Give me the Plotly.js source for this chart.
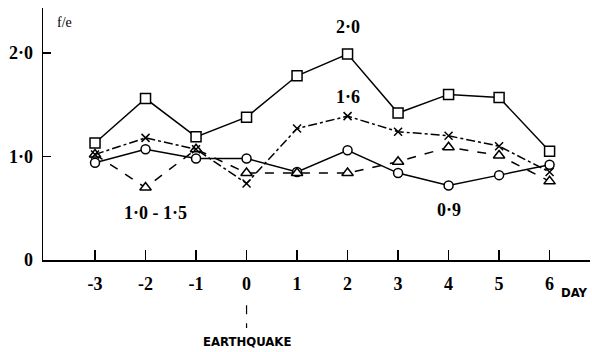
<!DOCTYPE html>
<html><head><meta charset="utf-8">
<script src="https://cdn.plot.ly/plotly-3.0.1.min.js"></script>
<style>html,body{margin:0;padding:0;background:#fff}#c{width:592px;height:352px}</style>
</head><body><div id="c"></div>
<script>
const days = [-3, -2, -1, 0, 1, 2, 3, 4, 5, 6];
const squareSeries = [1.13, 1.56, 1.19, 1.38, 1.78, 1.99, 1.42, 1.60, 1.57, 1.05];
const crossSeries = [1.02, 1.18, 1.07, 0.74, 1.27, 1.39, 1.24, 1.20, 1.10, 0.85];
const triangleSeries = [1.02, 0.70, 1.07, 0.84, 0.84, 0.84, 0.95, 1.09, 1.01, 0.76];
const circleSeries = [0.94, 1.07, 0.98, 0.98, 0.85, 1.06, 0.84, 0.72, 0.82, 0.92];
const xTickVals = [-3, -2, -1, 0, 1, 2, 3, 4, 5, 6];
const xTickText = ['-3', '-2', '-1', '0', '1', '2', '3', '4', '5', '6'];
const yTickVals = [0, 1, 2];
const yTickText = ['0', '1·0', '2·0'];

const serif = "'Liberation Serif', 'DejaVu Serif', serif";
const cond = "'DejaVu Sans Condensed', 'DejaVu Sans', sans-serif";
function tr(y, sym, dash, size) {
  return {x: days, y: y, type: 'scatter', mode: 'lines+markers',
    line: {color: '#000', width: 1.5, dash: dash},
    marker: {symbol: sym, size: size, color: '#fff', line: {color: '#000', width: 1.5}},
    hoverinfo: 'skip', showlegend: false, cliponaxis: false};
}
const data = [
  tr(circleSeries, 'circle', 'solid', 9),
  tr(triangleSeries, 'triangle-up', 'dash', 10),
  tr(crossSeries, 'x-thin-open', 'dashdot', 8),
  tr(squareSeries, 'square', 'solid', 10)
];
data[2].marker = {symbol: 'x-thin-open', size: 8, color: '#000', line: {color: '#000', width: 1.5}};

function ann(text, xref, x, yp, font, extra) {
  return Object.assign({text: text, xref: xref, yref: 'paper', x: x, y: yp, showarrow: false,
    xanchor: 'center', yanchor: 'middle', font: font}, extra || {});
}
const bigFont = {family: serif, size: 18, color: '#000', weight: 'bold'};
const layout = {
  width: 592, height: 352,
  margin: {l: 43, r: 2, t: 8, b: 92},
  paper_bgcolor: '#fff', plot_bgcolor: '#fff',
  font: {family: serif, color: '#000'},
  xaxis: {range: [-4.03, 6.80], showgrid: false, zeroline: false,
    showline: true, linecolor: '#000', linewidth: 1.5,
    tickmode: 'array', tickvals: xTickVals, ticktext: xTickText,
    ticks: 'inside', ticklen: 10, tickwidth: 1.2, tickcolor: '#000',
    ticklabelstandoff: 7,
    tickfont: bigFont},
  yaxis: {range: [0, 2.435], showgrid: false, zeroline: false,
    showline: true, linecolor: '#000', linewidth: 1.5,
    tickmode: 'array', tickvals: yTickVals, ticktext: yTickText,
    ticks: 'inside', ticklen: 8, tickwidth: 1.2, tickcolor: '#000',
    ticklabelstandoff: 5,
    tickfont: bigFont},
  shapes: [{type: 'line', xref: 'x', yref: 'paper', x0: 0, x1: 0, y0: -0.18, y1: -0.27,
    line: {color: '#000', width: 1.2, dash: 'dash'}}],
  annotations: [
    ann('f/e', 'paper', 0.04, 0.944, {family: serif, size: 14, color: '#000'}),
    ann('2·0', 'x', 2, 0.925, bigFont),
    ann('1·6', 'x', 2, 0.648, bigFont),
    ann('1·0 - 1·5', 'x', -1.8, 0.187, bigFont),
    ann('0·9', 'x', 4, 0.198, bigFont),
    ann('DAY', 'paper', 1.0, -0.13, {family: cond, size: 13, color: '#000', weight: 'bold'}, {xanchor: 'right'}),
    ann('EARTHQUAKE', 'x', 0, -0.325, {family: cond, size: 13, color: '#000', weight: 'bold'})
  ]
};
Plotly.newPlot('c', data, layout, {staticPlot: true, displayModeBar: false});
</script></body></html>
